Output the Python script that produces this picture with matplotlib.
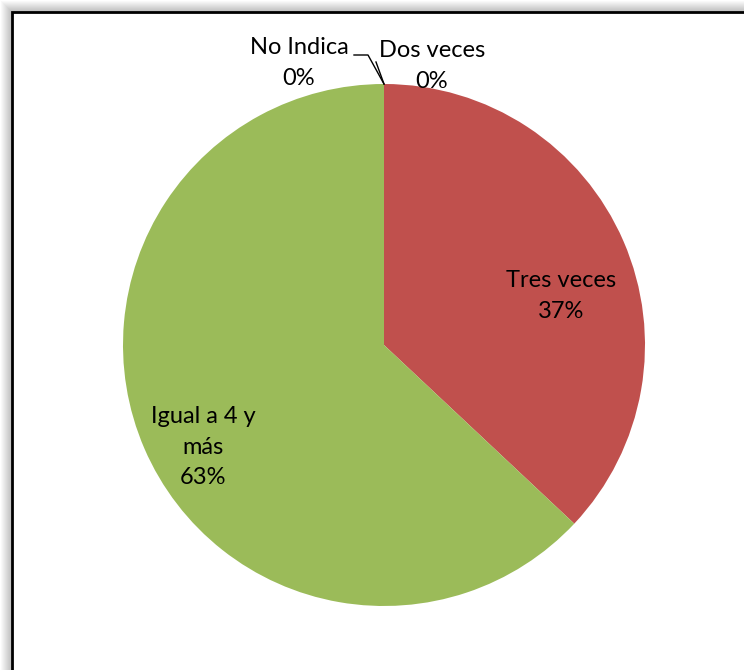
import matplotlib
matplotlib.use("Agg")
import matplotlib.pyplot as plt
from matplotlib.patches import Rectangle

plt.rcParams["font.family"] = ["Lato", "DejaVu Sans"]

# Frequency categories and their shares (percent)
categories = ["Dos veces", "Tres veces", "Igual a 4 y\nmás", "No Indica"]
shares = [0, 37, 63, 0]
colors = ["#4F81BD", "#C0504D", "#9BBB59", "#8064A2"]

W, H = 744, 670
fig = plt.figure(figsize=(W / 100, H / 100), dpi=100)

# ── Frame with soft shadow on the top/left ───────────────────────────────────
bg = fig.add_axes([0, 0, 1, 1])
bg.set_xlim(0, W)
bg.set_ylim(H, 0)
bg.axis("off")
for i in range(12):
    off = 12 - i
    bg.add_patch(Rectangle((off, off), W, H, facecolor="black",
                           alpha=0.025, edgecolor="none"))
bg.add_patch(Rectangle((12, 12), W + 20, H + 20, facecolor="white",
                       edgecolor="black", linewidth=2))

# ── Pie ──────────────────────────────────────────────────────────────────────
cx, cy, r = 384, 345, 261
ax = fig.add_axes([(cx - r) / W, (H - cy - r) / H, 2 * r / W, 2 * r / H])
ax.pie(shares, colors=colors, startangle=90, counterclock=False,
       radius=1.0, wedgeprops=dict(linewidth=0))
ax.set_xlim(-1, 1)
ax.set_ylim(-1, 1)
ax.set_aspect("equal")
ax.axis("off")

fs = 17
ls = 1.55
lbl = lambda i: f"{categories[i]}\n{shares[i]}%"

def px(x, y):
    # figure pixel coords -> pie data coords
    return (x - cx) / r, (cy - y) / r

ax.text(*px(561, 296), lbl(1), ha="center", va="center", fontsize=fs,
        linespacing=ls)
ax.text(*px(203, 447), lbl(2), ha="center", va="center", fontsize=fs,
        linespacing=ls)
ax.text(*px(299, 63), lbl(3), ha="center", va="center", fontsize=fs,
        linespacing=ls, clip_on=False)
ax.text(*px(432, 66), lbl(0), ha="center", va="center", fontsize=fs,
        linespacing=ls, clip_on=False)

# leader lines for the two empty slices
x0, y0 = px(354, 55)
x1, y1 = px(368, 55)
x2, y2 = px(384, 84)
ax.plot([x0, x1, x2], [y0, y1, y2], color="black", lw=1, clip_on=False)
x3, y3 = px(376, 62)
ax.plot([x3, x2], [y3, y2], color="black", lw=1, clip_on=False)

fig.savefig("out.png", dpi=100)
